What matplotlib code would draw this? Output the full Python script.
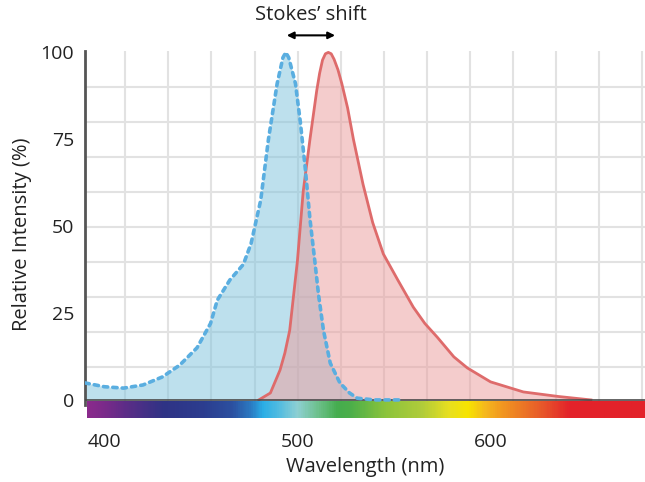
# Excitation / emission spectra with Stokes' shift

import numpy as np
import matplotlib.pyplot as plt
from matplotlib.colors import LinearSegmentedColormap

plt.rcParams["font.family"] = ["Open Sans", "DejaVu Sans"]

# Excitation spectrum (blue, dotted)
ex_wl = [390, 400, 410, 420, 430, 439, 448, 455, 458.5, 465, 472, 476, 481, 485,
         489.5, 492.5, 494, 495.5, 499, 501.5, 504, 506.5, 509, 511, 513.5, 517,
         522, 527, 531, 540, 555]
ex_int = [4.9, 3.8, 3.4, 4.3, 6.6, 10, 15, 22, 28.7, 34.5, 39, 45, 57.5, 75,
          91, 98.5, 100, 98.5, 91, 80, 67, 52, 40, 30, 20, 10.6,
          4.9, 2, 0.5, 0, 0]

# Emission spectrum (red, solid)
em_wl = [480, 486, 491, 493.5, 496, 498, 500, 503, 506.5, 510, 511.5, 513,
         514.5, 516, 517.5, 519, 521, 523, 526, 529, 534, 539, 544.5, 552, 560,
         566, 572.5, 581, 588, 600, 617, 635, 652]
em_int = [0, 2, 8.6, 13.5, 20, 30, 40, 60, 75, 89, 94, 97.8,
          99.6, 100, 99.6, 98, 95, 91, 84, 75, 62, 51, 42, 34.5, 26.7,
          22, 18, 12.4, 9.2, 5.2, 2.3, 1, 0]

# Visible spectrum bar colours (wavelength, colour)
spec_wl = [390, 398, 410, 429, 450, 465, 475, 481, 490, 499, 510, 520, 527,
           545, 564, 578, 588, 597, 605, 626, 641, 680]
spec_col = ["#8a2a8c", "#7b2a8a", "#5b2d87", "#2f3385", "#2c3d8f", "#2b50a0",
            "#2b7cc4", "#2aaee6", "#55bde0", "#8ed0d3", "#6cc08a", "#45ad4e",
            "#4caf4a", "#8cc43c", "#b0cc3a", "#e8e020", "#f7e400", "#f5b81e",
            "#f29a20", "#e85a2a", "#e3222a", "#e3222a"]

y_ticks = [0, 25, 50, 75, 100]
x_ticks = [400, 500, 600]

fig = plt.figure(figsize=(6.45, 4.82), dpi=100)
ax = fig.add_axes([85 / 645, 1 - 418 / 482, 1 - 85 / 645, (418 - 51) / 482])

x_lo, x_hi = 390, 680
y_lo, y_hi = -5.2, 100.4

# decorative grid
ax.set_xticks(np.arange(410.9, x_hi, 22.3), minor=True)
ax.set_yticks(np.arange(100, 5, -10.06), minor=True)
ax.grid(which="minor", color="#e2e2e2", lw=1.5)
ax.grid(which="major", visible=False)
ax.set_axisbelow(True)

# spectra
ax.fill_between(ex_wl, ex_int, color="#7dc3dd", alpha=0.5, lw=0, zorder=2)
ax.fill_between(em_wl, em_int, color="#eb9b9b", alpha=0.5, lw=0, zorder=3)
ax.plot(em_wl, em_int, color="#de6b6b", lw=2, zorder=5)

# spectrum bar
cmap = LinearSegmentedColormap.from_list(
    "spec", [((w - spec_wl[0]) / (spec_wl[-1] - spec_wl[0]), c)
             for w, c in zip(spec_wl, spec_col)])
grad = np.linspace(0, 1, 600)[None, :]
ax.imshow(grad, cmap=cmap, aspect="auto", extent=[391, x_hi, -5.1, -0.35],
          zorder=6, interpolation="bilinear")
ax.axhline(0, color="#4a4a4a", lw=1.2, zorder=6.5)
ax.plot(ex_wl, ex_int, color="#5aaee0", lw=2.6, ls=(0, (1.2, 1.4)),
        dash_capstyle="round", zorder=7)

ax.set_xlim(x_lo, x_hi)
ax.set_ylim(y_lo, y_hi)
ax.set_xticks(x_ticks)
ax.set_yticks(y_ticks)
ax.tick_params(which="both", length=0, labelsize=14, colors="#222222")
ax.tick_params(axis="x", pad=11)
ax.tick_params(axis="y", pad=8)

for s in ["top", "right", "bottom"]:
    ax.spines[s].set_visible(False)
ax.spines["left"].set_color("#555555")
ax.spines["left"].set_linewidth(2)
ax.spines["left"].set_bounds(-1.5, y_hi)

ax.set_xlabel("Wavelength (nm)", fontsize=14.5, color="#222222", labelpad=4)
ax.set_ylabel("Relative Intensity (%)", fontsize=14.5, color="#222222", labelpad=6)

# Stokes' shift annotation
ax.annotate("", xy=(494.5, 104.9), xytext=(519.5, 104.9),
            arrowprops=dict(arrowstyle="<|-|>", color="black", lw=1.5,
                            mutation_scale=10, shrinkA=0, shrinkB=0),
            annotation_clip=False)
ax.text(507, 110.8, "Stokes’ shift", ha="center", va="center", fontsize=14.5,
        color="#222222", clip_on=False)

fig.savefig("out.png", dpi=100)
